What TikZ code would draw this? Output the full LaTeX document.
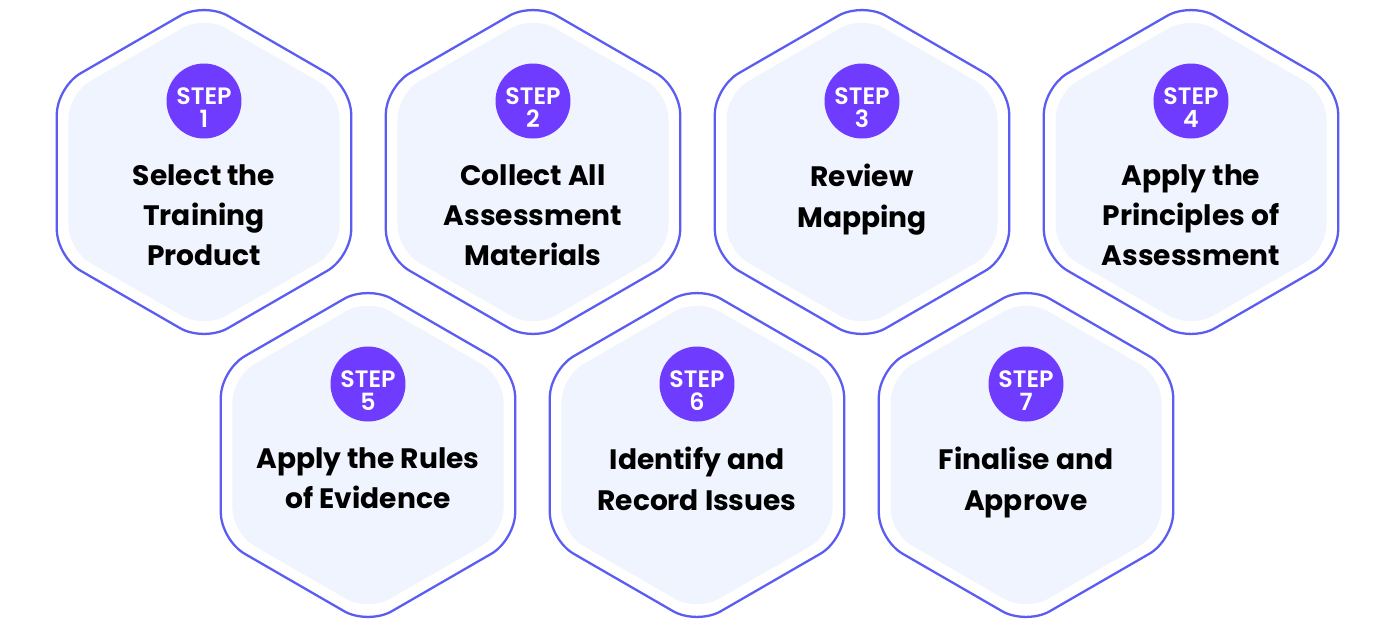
\documentclass[tikz,border=0pt]{standalone}
\usepackage{fontspec}
\setmainfont{Poppins}
\newfontfamily\stepfam{Poppins SemiBold}
\usepackage{tikz}
\usetikzlibrary{shapes.geometric,positioning}
\definecolor{hexline}{HTML}{5A5CF2}
\definecolor{hexfill}{HTML}{F0F4FE}
\definecolor{stepcol}{HTML}{6E3BFF}
\newcommand{\stepFont}[0]{\fontsize{13.5}{13}\selectfont\stepfam}
\newcommand{\hexFont}[0]{\fontsize{16}{23}\selectfont\bfseries}

\begin{document}
\begin{tikzpicture}[x=0.02cm, y=-0.02cm]
  \tikzset{hexout/.style={regular polygon, regular polygon sides=6, shape border rotate=30,
                          minimum size=6.8cm, inner sep=0pt, draw=hexline, line width=1.3pt,
                          fill=white, rounded corners=0.55cm},
           hexin/.style={regular polygon, regular polygon sides=6, shape border rotate=30,
                         minimum size=6.26cm, inner sep=0pt, fill=hexfill, rounded corners=0.5cm},
           stepdot/.style={circle, fill=stepcol, minimum size=1.5cm, inner sep=0pt},
           steplabel/.style={text=white, align=center, inner sep=0pt, font=\stepFont},
           steptext/.style={align=center, anchor=north, inner sep=0pt, font=\hexFont}}
  \useasboundingbox (0,0) rectangle (1397,643);
  % top row
  \node[hexout] (h1) at (204,172) {};
  \node[hexin] (i1) at (h1) {};
  \node[stepdot] (s1) at ([yshift=1.42cm]h1.center) {};
  \node[steplabel] (n1) at ([yshift=-0.13cm]s1.center) {STEP\\1};
  \node[steptext, below=0.5cm of s1] (t1) {Select the\\Training\\Product};
  \node[hexout] (h2) at (533,172) {};
  \node[hexin] (i2) at (h2) {};
  \node[stepdot] (s2) at ([yshift=1.42cm]h2.center) {};
  \node[steplabel] (n2) at ([yshift=-0.13cm]s2.center) {STEP\\2};
  \node[steptext, below=0.5cm of s2] (t2) {Collect All\\Assessment\\Materials};
  \node[hexout] (h3) at (862,172) {};
  \node[hexin] (i3) at (h3) {};
  \node[stepdot] (s3) at ([yshift=1.42cm]h3.center) {};
  \node[steplabel] (n3) at ([yshift=-0.13cm]s3.center) {STEP\\3};
  \node[steptext, below=0.5cm of s3] (t3) {Review\\Mapping};
  \node[hexout] (h4) at (1191,172) {};
  \node[hexin] (i4) at (h4) {};
  \node[stepdot] (s4) at ([yshift=1.42cm]h4.center) {};
  \node[steplabel] (n4) at ([yshift=-0.13cm]s4.center) {STEP\\4};
  \node[steptext, below=0.5cm of s4] (t4) {Apply the\\Principles of\\Assessment};
  % bottom row
  \node[hexout] (h5) at (368,455) {};
  \node[hexin] (i5) at (h5) {};
  \node[stepdot] (s5) at ([yshift=1.42cm]h5.center) {};
  \node[steplabel] (n5) at ([yshift=-0.13cm]s5.center) {STEP\\5};
  \node[steptext, below=0.5cm of s5] (t5) {Apply the Rules\\of Evidence};
  \node[hexout] (h6) at (697,455) {};
  \node[hexin] (i6) at (h6) {};
  \node[stepdot] (s6) at ([yshift=1.42cm]h6.center) {};
  \node[steplabel] (n6) at ([yshift=-0.13cm]s6.center) {STEP\\6};
  \node[steptext, below=0.5cm of s6] (t6) {Identify and\\Record Issues};
  \node[hexout] (h7) at (1026,455) {};
  \node[hexin] (i7) at (h7) {};
  \node[stepdot] (s7) at ([yshift=1.42cm]h7.center) {};
  \node[steplabel] (n7) at ([yshift=-0.13cm]s7.center) {STEP\\7};
  \node[steptext, below=0.5cm of s7] (t7) {Finalise and\\Approve};
\end{tikzpicture}
\end{document}
